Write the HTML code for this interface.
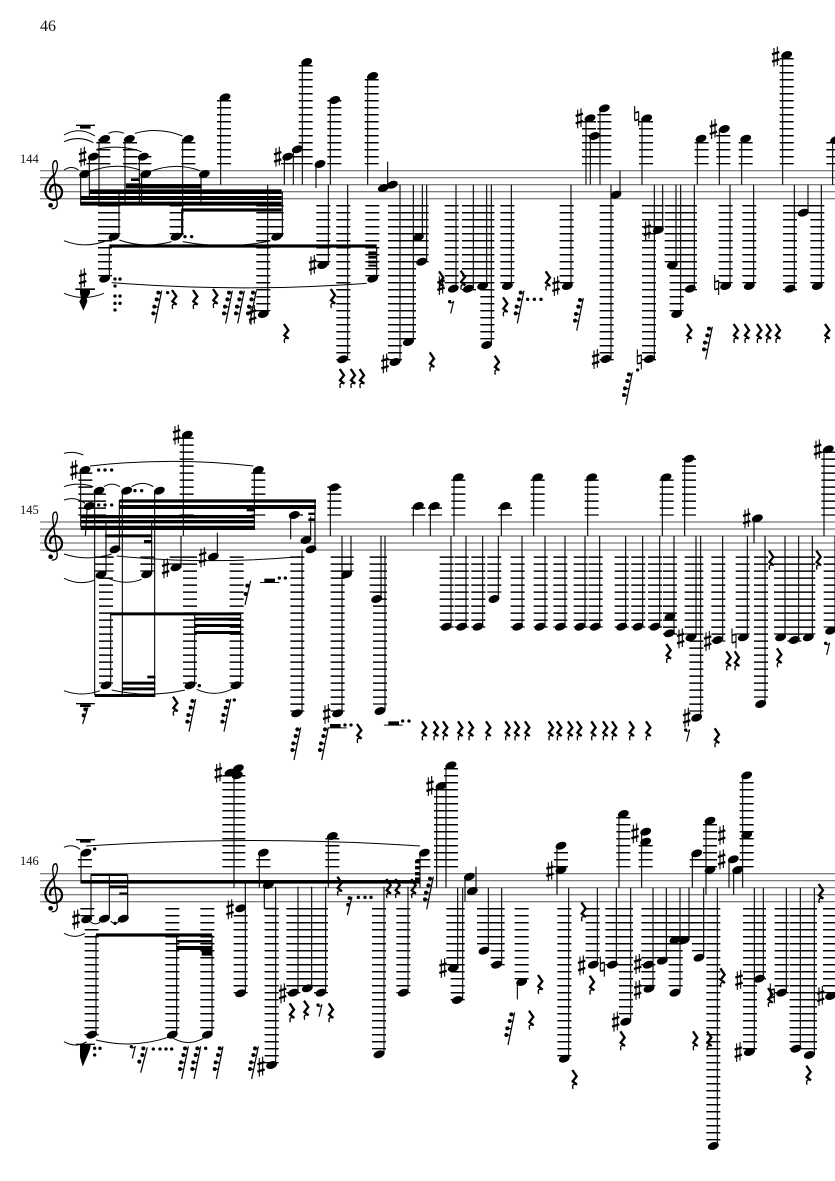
<!DOCTYPE html>
<html><head><meta charset="utf-8"><style>
html,body{margin:0;padding:0;background:#fff;width:835px;height:1181px;overflow:hidden}
svg{display:block}
.st{fill:none;stroke:#000;stroke-width:3.3}
.lg{fill:none;stroke:#000;stroke-width:42;stroke-dasharray:4.5 16.5}
.tie{fill:none;stroke:#000;stroke-width:3}
.t{font-family:"Liberation Serif",serif;fill:#111}
</style></head><body>
<svg width="835" height="1181" viewBox="0 0 835 1181" xmlns="http://www.w3.org/2000/svg">
<defs>
<ellipse id="n" rx="17" ry="11" transform="rotate(-20)" fill="#000"/>
<circle id="d" r="5" fill="#000"/>
<g id="s" fill="none" stroke="#000"><path d="M-5 -26V30M5 -30V26" stroke-width="3.3"/><path d="M-11 -7L11 -14M-11 15L11 8" stroke-width="7"/></g>
<g id="N" fill="none" stroke="#000"><path d="M-6 -30V14M6 -14V30" stroke-width="3.3"/><path d="M-6 -9L6 -13M-6 14L6 10" stroke-width="5"/></g>
<g id="r" fill="none" stroke="#000"><path d="M-6 -28L7 -9L-5 6L8 16" stroke-width="7"/><path d="M8 16Q-9 10 -4 29" stroke-width="4"/></g>
<g id="e" fill="none" stroke="#000"><path d="M-3 20L6 -17" stroke-width="3.5"/><path d="M-7 -13Q-2 -8 6 -15" stroke-width="3"/><circle cx="-6" cy="-15" r="5" fill="#000" stroke="none"/></g>
<g id="f"><path d="M-3 50L17 -48" fill="none" stroke="#000" stroke-width="3.6"/><path d="M7 -42L15 -41M2 -22L11 -21M-5 0L6 1M-8 20L2 21" stroke="#000" stroke-width="4"/><circle cx="7" cy="-42" r="6"/><circle cx="2" cy="-22" r="6"/><circle cx="-5" cy="0" r="6"/><circle cx="-8" cy="20" r="6"/></g>
<g id="R" fill="#000"><rect x="-27" y="-4" width="57" height="4"/><rect x="-15" y="0" width="32" height="8"/></g>
<g id="c"><path fill="none" stroke="#000" stroke-width="4" d="M172 462L158 350Q158 332 168 332Q178 345 165 372"/><path fill="none" stroke="#000" stroke-width="6.5" d="M165 372Q136 400 136 422Q138 448 162 450Q188 446 186 422Q180 402 162 404Q146 410 152 428"/><path fill="none" stroke="#000" stroke-width="4" d="M172 462Q170 478 155 476"/><circle cx="152" cy="466" r="7"/></g>
</defs>
<rect width="835" height="1181" fill="#fff"/>
<text class="t" x="40" y="31" font-size="16">46</text>
<text class="t" x="20" y="163" font-size="12.5">144</text>
<text class="t" x="20" y="514" font-size="12.5">145</text>
<text class="t" x="20" y="865" font-size="12.5">146</text>
<path d="M40 170.7H835M40 177.7H835M40 184.7H835M40 191.7H835M40 198.7H835M40 522H835M40 529H835M40 536H835M40 543H835M40 550H835M40 873.7H835M40 880.7H835M40 887.7H835M40 894.7H835M40 901.7H835" stroke="#555" stroke-width="1" fill="none"/>

<g transform="translate(0,50) scale(.33333)">
<use href="#c"/>
<path class="lg" d="M310 276V343M390 276V343M565 276V343M433 318V343M280 339V343M672 150V343M864 339V343M892 318V343M917 45V343M1003 150V343M1115 87V343M315 465V679M340 465V553M530 465V553M790 465V784M830 465V553M970 465V637M1030 465V931M1117 465V679M1185 465V931M1227 465V868"/>
<path class="st" d="M242 372V466M268 320V440M297 267V460M357 425V560M328 590V686M375 267V460M418 320V460M425 372V460M548 267V555M545 476V560M603 372V460M662 142V404M803 404V790M847 425V560M853 320V404M880 298V404M907 36V404M948 342V414M991 150V404M985 404V645M1043 404V928M1103 78V404M1130 593V686M1163 335V408M1200 404V936M1240 404V876"/>
<path d="M425 402H605V415H425ZM378 400H425V415H378ZM268 418H845V432H268ZM242 438H845V450H242ZM242 455H845V467H242ZM545 475H845V485H545ZM393 385H418V393H393ZM328 583H1130V593H328ZM1105 604H1130V612H1105ZM1105 618H1130V626H1105ZM1105 632H1130V640H1105ZM1105 644H1130V650H1105ZM228 224H285V228H228ZM240 228H272V236H240Z"/>
<path class="tie" d="M192 255Q238 228 285 258M192 275Q238 255 280 278M192 360Q215 345 235 360M325 250Q348 240 372 250M405 250Q475 230 548 258M290 298Q360 282 425 305M268 365Q345 335 420 360M450 365Q525 335 600 362M192 572Q258 598 325 570M358 570Q435 597 515 575M548 575Q680 600 810 573M335 698Q718 728 1100 700M192 730Q250 755 312 730"/>
<use href="#n" x="254" y="372"/><use href="#n" x="280" y="320"/><use href="#n" x="314" y="267"/><use href="#n" x="388" y="267"/><use href="#n" x="430" y="320"/><use href="#n" x="437" y="372"/><use href="#n" x="565" y="267"/><use href="#n" x="613" y="372"/><use href="#n" x="675" y="142"/><use href="#n" x="342" y="560"/><use href="#n" x="528" y="560"/><use href="#n" x="830" y="560"/><use href="#n" x="314" y="686"/><use href="#n" x="790" y="792"/><use href="#n" x="863" y="320"/><use href="#n" x="892" y="298"/><use href="#n" x="920" y="36"/><use href="#n" x="960" y="342"/><use href="#n" x="1004" y="150"/><use href="#n" x="968" y="645"/><use href="#n" x="1028" y="928"/><use href="#n" x="1118" y="78"/><use href="#n" x="1118" y="686"/><use href="#n" x="1150" y="414"/><use href="#n" x="1177" y="404"/><use href="#n" x="1185" y="936"/><use href="#n" x="1225" y="876"/>
<use href="#s" x="248" y="320"/><use href="#s" x="833" y="320"/><use href="#s" x="938" y="645"/><use href="#s" x="1155" y="940"/><use href="#s" x="758" y="795"/><use href="#s" x="248" y="685"/>
<path d="M226 715H285V720H270V730L260 745L262 755L250 782L238 755L243 745L240 730V720H226Z"/>
<use href="#d" x="345" y="687"/><use href="#d" x="360" y="687"/><use href="#d" x="345" y="708"/><use href="#d" x="345" y="738"/><use href="#d" x="360" y="738"/><use href="#d" x="345" y="760"/><use href="#d" x="360" y="760"/><use href="#d" x="345" y="780"/><use href="#d" x="503" y="728"/><use href="#d" x="555" y="560"/><use href="#d" x="575" y="560"/>
<use href="#f" x="468" y="770"/><use href="#f" x="680" y="770"/><use href="#f" x="716" y="770"/><use href="#f" x="752" y="770"/>
<use href="#r" x="522" y="748"/><use href="#r" x="585" y="748"/><use href="#r" x="645" y="745"/><use href="#r" x="858" y="850"/><use href="#r" x="998" y="745"/><use href="#r" x="1025" y="985"/><use href="#r" x="1058" y="985"/><use href="#r" x="1085" y="985"/>
</g>

<g transform="translate(415,50) scale(.33333)">
<path class="lg" d="M8 465V553M20 465V637M110 465V700M162 465V721M203 465V700M217 465V868M277 465V700M455 465V700M522 213V343M535 255V343M568 192V343M693 213V343M860 276V343M925 255V343M992 276V343M1115 24V343M1255 276V343M575 465V931M702 465V931M725 465V532M770 465V637M785 465V784M825 465V721M932 465V700M1003 465V700M1125 465V721M1165 465V490M1207 465V700"/>
<path class="st" d="M22 404V562M35 404V635M123 404V716M175 404V716M215 404V708M229 404V885M289 404V708M468 404V708M513 205V404M526 258V404M555 175V404M615 362V434M588 404V927M681 205V404M718 404V927M743 404V540M783 404V645M797 404V792M838 404V716M847 266V404M913 237V404M945 404V708M980 266V404M1016 404V708M1103 15V404M1138 404V716M1179 404V488M1219 404V708M1253 270V404"/>
<use href="#n" x="10" y="562"/><use href="#n" x="20" y="635"/><use href="#n" x="115" y="716"/><use href="#n" x="160" y="716"/><use href="#n" x="203" y="708"/><use href="#n" x="215" y="885"/><use href="#n" x="277" y="708"/><use href="#n" x="457" y="708"/><use href="#n" x="525" y="205"/><use href="#n" x="538" y="258"/><use href="#n" x="568" y="175"/><use href="#n" x="603" y="434"/><use href="#n" x="573" y="927"/><use href="#n" x="695" y="205"/><use href="#n" x="703" y="927"/><use href="#n" x="730" y="540"/><use href="#n" x="772" y="645"/><use href="#n" x="785" y="792"/><use href="#n" x="826" y="716"/><use href="#n" x="858" y="266"/><use href="#n" x="928" y="237"/><use href="#n" x="932" y="708"/><use href="#n" x="992" y="266"/><use href="#n" x="1003" y="708"/><use href="#n" x="1115" y="15"/><use href="#n" x="1125" y="716"/><use href="#n" x="1165" y="488"/><use href="#n" x="1207" y="708"/><use href="#n" x="1262" y="270"/>
<use href="#s" x="78" y="705"/><use href="#s" x="423" y="708"/><use href="#s" x="493" y="205"/><use href="#s" x="542" y="927"/><use href="#s" x="697" y="540"/><use href="#s" x="895" y="237"/><use href="#s" x="1082" y="20"/>
<use href="#N" x="665" y="198"/><use href="#N" x="673" y="928"/><use href="#N" x="905" y="705"/>
<use href="#r" x="78" y="692"/><use href="#r" x="143" y="690"/><use href="#r" x="398" y="692"/><use href="#r" x="270" y="770"/><use href="#r" x="50" y="935"/><use href="#r" x="245" y="945"/><use href="#r" x="822" y="850"/><use href="#r" x="962" y="850"/><use href="#r" x="995" y="850"/><use href="#r" x="1032" y="850"/><use href="#r" x="1060" y="850"/><use href="#r" x="1088" y="850"/><use href="#r" x="1236" y="850"/>
<use href="#e" x="110" y="770"/><use href="#f" x="310" y="770"/><use href="#f" x="488" y="792"/><use href="#f" x="875" y="878"/><use href="#f" x="635" y="1015"/>
<use href="#d" x="338" y="748"/><use href="#d" x="358" y="748"/><use href="#d" x="378" y="748"/><use href="#d" x="668" y="960"/>
</g>

<g transform="translate(0,420) scale(.33333)">
<use href="#c" y="-56"/>
<path class="lg" d="M256 157V287M297 220V287M560 52V287M775 157V287M1003 199V287M1255 262V287M888 283V287M305 409V455M320 409V455M442 409V455M530 409V434M570 409V791M710 409V791M318 472V791M892 409V875M1040 409V455M1013 409V875M1130 409V518M1140 409V854"/>
<path class="st" d="M242 150V320M284 212V825M318 300V464M332 580V796M358 240V388M367 212V825M464 212V825M455 310V463M543 348V442M550 44V348M584 580V796M652 338V410M722 580V796M763 150V320M872 285V358M932 290V360M945 240V388M906 390V880M991 202V348M1053 348V463M1026 348V880M1143 348V537M1155 348V873M1240 258V348M262 258L256 348"/>
<path d="M358 238H948V248H358ZM358 255H948V267H358ZM242 285H765V295H242ZM242 300H765V310H242ZM242 317H765V330H242ZM315 343H455V352H315ZM432 360H455V370H432ZM740 265H765V274H740ZM925 278H945V285H925ZM925 295H945V303H925ZM330 577H722V586H330ZM584 593H722V602H584ZM584 612H722V621H584ZM584 633H722V642H584ZM284 822H466V831H284ZM367 785H466V794H367ZM367 802H466V811H367ZM442 767H466V775H442Z"/>
<path class="tie" d="M192 100Q220 92 250 105M270 138Q515 110 760 138M192 200Q235 185 280 200M312 200Q335 185 360 200M395 200Q428 180 460 200M192 240Q225 228 255 250M192 402Q262 425 335 402M350 408Q625 435 900 410M192 475Q238 498 285 480M325 475Q375 497 425 478M192 812Q245 832 300 812M335 810Q445 835 555 810M590 808Q642 832 695 808"/>
<use href="#n" x="255" y="150"/><use href="#n" x="268" y="258"/><use href="#n" x="297" y="212"/><use href="#n" x="303" y="464"/><use href="#n" x="318" y="796"/><use href="#n" x="345" y="388"/><use href="#n" x="380" y="212"/><use href="#n" x="478" y="212"/><use href="#n" x="440" y="463"/><use href="#n" x="528" y="442"/><use href="#n" x="562" y="44"/><use href="#n" x="570" y="796"/><use href="#n" x="640" y="410"/><use href="#n" x="708" y="796"/><use href="#n" x="775" y="150"/><use href="#n" x="883" y="285"/><use href="#n" x="918" y="360"/><use href="#n" x="933" y="388"/><use href="#n" x="890" y="880"/><use href="#n" x="1003" y="202"/><use href="#n" x="1040" y="463"/><use href="#n" x="1013" y="880"/><use href="#n" x="1130" y="537"/><use href="#n" x="1140" y="873"/><use href="#n" x="1255" y="258"/>
<use href="#s" x="222" y="150"/><use href="#s" x="497" y="445"/><use href="#s" x="530" y="44"/><use href="#s" x="608" y="412"/><use href="#s" x="980" y="882"/>
<use href="#R" x="255" y="853"/><path d="M248 912L264 862" stroke="#000" stroke-width="3.6"/><circle cx="256" cy="868" r="6"/><circle cx="251" cy="886" r="6"/>
<use href="#r" x="525" y="858"/><use href="#f" x="570" y="885"/><use href="#f" x="675" y="885"/>
<path d="M735 555L752 482" stroke="#000" stroke-width="3.6"/><circle cx="742" cy="497" r="6"/><circle cx="737" cy="522" r="6"/>
<use href="#f" x="885" y="970"/><use href="#f" x="968" y="970"/><use href="#r" x="1077" y="940"/>
<use href="#d" x="296" y="150"/><use href="#d" x="315" y="150"/><use href="#d" x="335" y="150"/><use href="#d" x="296" y="255"/><use href="#d" x="315" y="255"/><use href="#d" x="335" y="255"/><use href="#d" x="405" y="212"/><use href="#d" x="425" y="212"/><use href="#d" x="598" y="797"/><use href="#d" x="703" y="840"/><use href="#d" x="838" y="474"/><use href="#d" x="856" y="474"/><use href="#d" x="1035" y="915"/><use href="#d" x="1053" y="915"/><use href="#d" x="1208" y="903"/><use href="#d" x="1227" y="903"/>
<path d="M780 486H838V489H780ZM793 476H825V486H793ZM985 922H1040V925H985ZM990 912H1022V922H990ZM1152 914H1208V917H1152ZM1165 904H1197V914H1165Z"/>
</g>

<g transform="translate(415,420) scale(.33333)">
<path class="lg" d="M60 262V287M130 178V287M270 262V287M368 178V287M530 178V287M755 178V287M822 115V287M1240 94V287M95 409V623M140 409V623M190 409V623M238 409V518M308 409V623M377 409V623M436 409V623M497 409V623M542 409V623M620 409V623M670 409V623M720 409V623M765 409V644M830 409V644M844 409V875M910 409V665M983 409V644M1038 409V833M1098 409V644M1138 409V665M1180 409V644M1247 409V623"/>
<path class="st" d="M46 258V348M108 348V620M117 172V348M153 348V620M203 348V620M250 348V537M259 258V348M321 348V620M356 172V348M390 348V620M450 348V620M510 348V620M518 172V348M554 348V620M632 348V620M683 348V620M734 348V620M742 172V348M777 348V640M809 116V348M843 348V652M857 348V893M923 348V660M997 348V652M1017 295V370M1050 348V852M1110 348V652M1151 348V660M1192 348V652M1227 88V348M1260 348V632"/>
<use href="#n" x="58" y="258"/><use href="#n" x="94" y="620"/><use href="#n" x="130" y="172"/><use href="#n" x="140" y="620"/><use href="#n" x="189" y="620"/><use href="#n" x="237" y="537"/><use href="#n" x="270" y="258"/><use href="#n" x="308" y="620"/><use href="#n" x="368" y="172"/><use href="#n" x="375" y="620"/><use href="#n" x="436" y="620"/><use href="#n" x="495" y="620"/><use href="#n" x="530" y="172"/><use href="#n" x="541" y="620"/><use href="#n" x="620" y="620"/><use href="#n" x="669" y="620"/><use href="#n" x="720" y="620"/><use href="#n" x="753" y="172"/><use href="#n" x="765" y="590"/><use href="#n" x="763" y="640"/><use href="#n" x="822" y="116"/><use href="#n" x="828" y="652"/><use href="#n" x="845" y="893"/><use href="#n" x="908" y="660"/><use href="#n" x="985" y="652"/><use href="#n" x="1027" y="295"/><use href="#n" x="1037" y="852"/><use href="#n" x="1097" y="652"/><use href="#n" x="1138" y="660"/><use href="#n" x="1180" y="652"/><use href="#n" x="1240" y="88"/><use href="#n" x="1247" y="632"/>
<use href="#s" x="797" y="655"/><use href="#s" x="815" y="893"/><use href="#s" x="878" y="663"/><use href="#s" x="995" y="295"/><use href="#s" x="1208" y="88"/><use href="#N" x="957" y="655"/>
<use href="#r" x="27" y="932"/><use href="#r" x="62" y="932"/><use href="#r" x="90" y="932"/><use href="#r" x="135" y="932"/><use href="#r" x="167" y="932"/><use href="#r" x="219" y="932"/><use href="#r" x="277" y="932"/><use href="#r" x="305" y="932"/><use href="#r" x="336" y="932"/><use href="#r" x="407" y="932"/><use href="#r" x="432" y="932"/><use href="#r" x="465" y="932"/><use href="#r" x="492" y="932"/><use href="#r" x="535" y="932"/><use href="#r" x="570" y="932"/><use href="#r" x="597" y="932"/><use href="#r" x="649" y="932"/><use href="#r" x="699" y="932"/><use href="#r" x="760" y="700"/><use href="#r" x="905" y="953"/><use href="#r" x="940" y="722"/><use href="#r" x="965" y="722"/><use href="#r" x="1092" y="713"/><use href="#r" x="1068" y="420"/><use href="#r" x="1210" y="420"/>
<use href="#e" x="818" y="945"/><use href="#e" x="1238" y="685"/>
</g>

<g transform="translate(0,760) scale(.33333)">
<use href="#c" y="-21"/>
<path class="lg" d="M255 297V322M688 45V322M715 45V322M790 297V322M997 234V322M262 444V469M275 507V826M517 444V805M622 444V805M722 465V700M815 444V910M880 444V700M922 444V679M963 444V700M1137 444V868M1210 444V700"/>
<path class="st" d="M243 278V370M273 345V478M328 345V476M383 345V476M288 525V824M530 530V824M636 525V824M702 40V383M736 370V700M778 278V383M793 375V445H828M827 380V915M894 380V698M935 380V685M977 380V698M985 228V383M1152 380V883M1224 380V698"/>
<path d="M243 360H1260V371H243ZM272 341H383V348H272ZM328 376H383V385H328ZM358 397H383V404H358ZM288 520H636V530H288ZM530 540H636V548H530ZM530 558H636V570H530ZM605 570H636V587H605ZM228 237H285V241H228ZM240 241H272V248H240ZM228 851H285V855H228ZM240 855H272L270 868L260 892L248 920L240 890Z"/>
<path class="tie" d="M192 262Q218 250 240 268M258 258Q760 225 1260 258M192 520Q225 538 255 520M270 485Q285 497 300 487M332 483Q345 498 358 483M192 845Q228 865 260 845M288 840Q400 868 510 830M520 835Q565 860 610 835"/>
<use href="#n" x="258" y="278"/><use href="#n" x="260" y="478"/><use href="#n" x="313" y="476"/><use href="#n" x="370" y="476"/><use href="#n" x="275" y="824"/><use href="#n" x="517" y="824"/><use href="#n" x="622" y="824"/><use href="#n" x="690" y="38"/><use href="#n" x="715" y="25"/><use href="#n" x="712" y="46"/><use href="#n" x="722" y="445"/><use href="#n" x="722" y="700"/><use href="#n" x="790" y="278"/><use href="#n" x="805" y="375"/><use href="#n" x="815" y="915"/><use href="#n" x="880" y="698"/><use href="#n" x="922" y="685"/><use href="#n" x="963" y="698"/><use href="#n" x="997" y="228"/><use href="#n" x="1137" y="883"/><use href="#n" x="1210" y="698"/>
<use href="#s" x="228" y="478"/><use href="#s" x="655" y="38"/><use href="#s" x="690" y="448"/><use href="#s" x="783" y="920"/><use href="#s" x="848" y="700"/>
<use href="#d" x="284" y="267"/><use href="#d" x="345" y="490"/><use href="#d" x="284" y="865"/><use href="#d" x="300" y="865"/><use href="#d" x="284" y="885"/><use href="#d" x="460" y="867"/><use href="#d" x="480" y="867"/><use href="#d" x="498" y="867"/><use href="#d" x="515" y="867"/><use href="#d" x="617" y="865"/><use href="#d" x="1075" y="412"/><use href="#d" x="1095" y="412"/><use href="#d" x="1113" y="412"/>
<use href="#r" x="1018" y="378"/><use href="#r" x="1165" y="385"/><use href="#r" x="1192" y="385"/><use href="#r" x="1240" y="385"/><use href="#r" x="875" y="758"/><use href="#r" x="918" y="750"/><use href="#r" x="992" y="758"/>
<use href="#e" x="960" y="750"/><use href="#e" x="400" y="875"/>
<path d="M1042 465L1056 410" stroke="#000" stroke-width="3.6"/><circle cx="1048" cy="414" r="5.5"/><circle cx="1044" cy="434" r="5.5"/>
<path d="M422 938L442 862" stroke="#000" stroke-width="3.6"/><circle cx="430" cy="865" r="6"/><circle cx="427" cy="885" r="6"/><circle cx="418" cy="905" r="6"/>
<use href="#f" x="548" y="907"/><use href="#f" x="585" y="907"/><use href="#f" x="652" y="907"/><use href="#f" x="758" y="907"/>
</g>

<g transform="translate(415,760) scale(.33333)">
<path class="lg" d="M25 297V322M78 87V322M108 24V322M438 276V322M625 171V322M692 255V322M845 297V322M885 192V322M995 66V322M115 444V616M128 444V721M207 444V553M248 444V616M320 444V658M448 444V889M533 444V595M592 444V616M633 444V763M700 444V679M742 444V595M782 444V679M810 444V532M852 444V574M895 444V1141M1005 444V868M1032 444V658M1100 444V700M1145 444V868M1185 444V868M1245 444V700"/>
<path class="st" d="M15 278V383M65 78V383M93 16V383M183 320V393M150 350V425M128 383V624M143 383V720M220 383V572M260 383V614M307 666V718M426 257V404M461 383V896M547 383V614M604 383V614M612 162V383M647 383V785M680 215V383M714 383V686M754 383V602M795 383V698M822 383V540M832 280V383M866 383V593M873 182V404M907 383V1158M942 298V383M956 330V404M983 46V383M1045 383V656M1018 383V876M1114 383V698M1156 383V866M1198 383V885"/>
<path d="M0 300H15V310H0ZM0 318H15V328H0ZM0 336H15V346H0ZM0 352H15V362H0Z"/>
<use href="#n" x="28" y="278"/><use href="#n" x="78" y="78"/><use href="#n" x="108" y="16"/><use href="#n" x="163" y="350"/><use href="#n" x="172" y="393"/><use href="#n" x="115" y="624"/><use href="#n" x="127" y="720"/><use href="#n" x="207" y="572"/><use href="#n" x="245" y="614"/><use href="#n" x="320" y="666"/><use href="#n" x="438" y="257"/><use href="#n" x="438" y="330"/><use href="#n" x="448" y="896"/><use href="#n" x="535" y="614"/><use href="#n" x="592" y="614"/><use href="#n" x="625" y="162"/><use href="#n" x="632" y="785"/><use href="#n" x="692" y="215"/><use href="#n" x="692" y="245"/><use href="#n" x="700" y="614"/><use href="#n" x="702" y="686"/><use href="#n" x="742" y="602"/><use href="#n" x="780" y="540"/><use href="#n" x="808" y="540"/><use href="#n" x="780" y="698"/><use href="#n" x="845" y="280"/><use href="#n" x="852" y="593"/><use href="#n" x="885" y="182"/><use href="#n" x="885" y="330"/><use href="#n" x="895" y="1158"/><use href="#n" x="955" y="298"/><use href="#n" x="968" y="330"/><use href="#n" x="995" y="46"/><use href="#n" x="995" y="225"/><use href="#n" x="1033" y="656"/><use href="#n" x="1003" y="876"/><use href="#n" x="1100" y="698"/><use href="#n" x="1143" y="866"/><use href="#n" x="1183" y="885"/><use href="#n" x="1247" y="708"/>
<use href="#s" x="45" y="78"/><use href="#s" x="84" y="624"/><use href="#s" x="405" y="333"/><use href="#s" x="500" y="616"/><use href="#s" x="602" y="785"/><use href="#s" x="660" y="220"/><use href="#s" x="668" y="612"/><use href="#s" x="668" y="690"/><use href="#s" x="920" y="298"/><use href="#s" x="920" y="225"/><use href="#s" x="972" y="660"/><use href="#s" x="970" y="876"/><use href="#s" x="1217" y="708"/>
<use href="#N" x="562" y="620"/><use href="#N" x="1072" y="700"/>
<use href="#f" x="38" y="398"/><use href="#f" x="282" y="805"/>
<use href="#r" x="505" y="455"/><use href="#r" x="375" y="673"/><use href="#r" x="348" y="780"/><use href="#r" x="478" y="958"/><use href="#r" x="530" y="675"/><use href="#r" x="622" y="842"/><use href="#r" x="922" y="653"/><use href="#r" x="840" y="842"/><use href="#r" x="882" y="842"/><use href="#r" x="1065" y="712"/><use href="#r" x="1180" y="945"/><use href="#r" x="1217" y="400"/>
</g>
</svg>
</body></html>
